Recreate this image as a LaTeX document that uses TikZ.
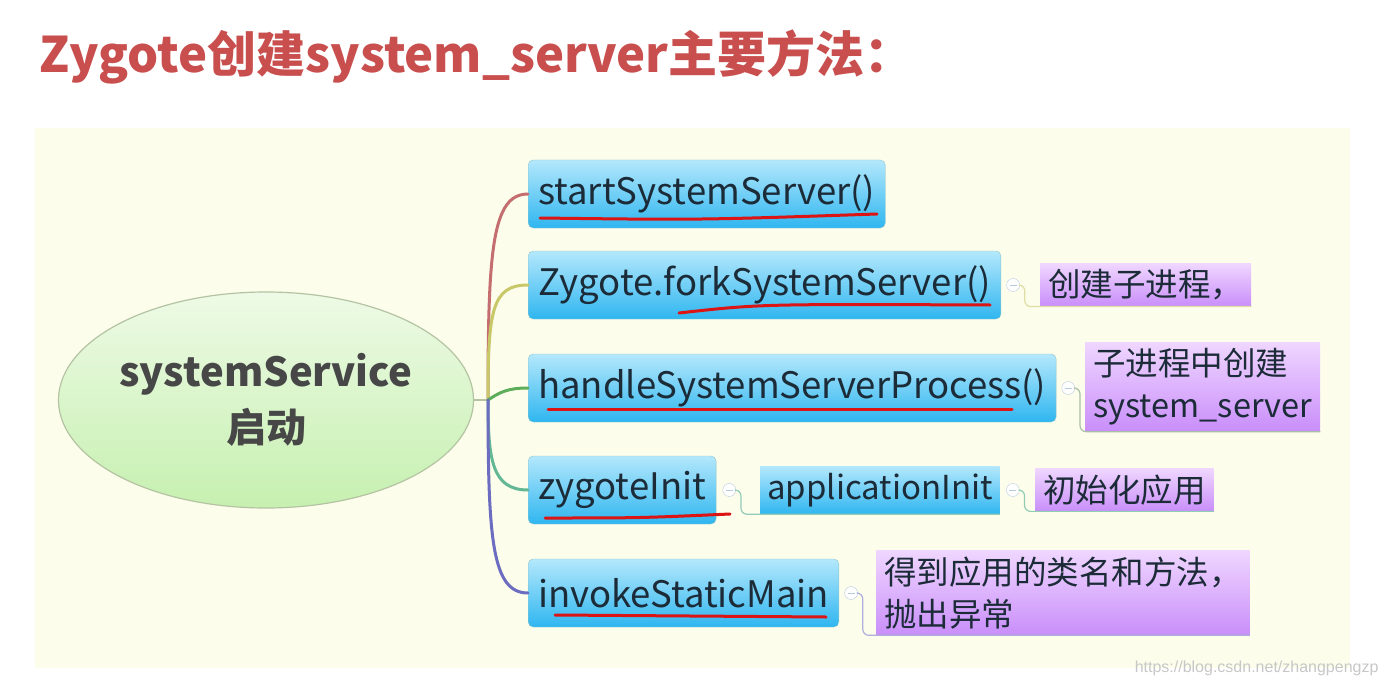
\documentclass[tikz,border=0pt]{standalone}
\usepackage{fontspec}
\setmainfont{Noto Sans CJK SC}
\newfontfamily\wmfont{Liberation Sans}
\usetikzlibrary{shapes.geometric,calc}
\definecolor{panel}{HTML}{FDFDEC}
\definecolor{titleRed}{HTML}{C94F4F}
\definecolor{ink}{HTML}{1C2B38}
\definecolor{topicA}{HTML}{B4E8FC}
\definecolor{topicB}{HTML}{2FB6F0}
\definecolor{topicLine}{HTML}{8FC6C8}
\definecolor{noteA}{HTML}{EFD6FF}
\definecolor{noteB}{HTML}{C98EFA}
\definecolor{rootA}{HTML}{EEFAE6}
\definecolor{rootB}{HTML}{C6F0B0}
\definecolor{rootLine}{HTML}{B4C4A2}
\definecolor{brA}{HTML}{C46E70}
\definecolor{brB}{HTML}{C9C868}
\definecolor{brC}{HTML}{5DAE5A}
\definecolor{brD}{HTML}{62B894}
\definecolor{brE}{HTML}{6C6CC0}
\definecolor{minusLine}{HTML}{B8CCE0}
\definecolor{penRed}{HTML}{DC1414}

\begin{document}
\begin{tikzpicture}[x=1pt,y=-1pt,
  topic/.style={draw=topicLine,rounded corners=5pt,top color=topicA,bottom color=topicB,
                minimum height=68pt,inner xsep=10pt,anchor=west,text=ink,
                font=\fontsize{36.5}{40}\selectfont},
  subtopic/.style={top color=topicA,bottom color=topicB,minimum height=48pt,inner xsep=7pt,
                anchor=west,text=ink,font=\fontsize{33}{36}\selectfont},
  note/.style={top color=noteA,bottom color=noteB,inner xsep=8pt,inner ysep=6pt,anchor=west,
               align=left,text=ink,font=\fontsize{32.5}{42}\selectfont},
  minus/.style={circle,draw=minusLine,fill=white,minimum size=13pt,inner sep=0pt,
                path picture={\draw[minusLine] (-3.5pt,0pt) -- (3.5pt,0pt);}},
  branch/.style={line width=3pt,line cap=round,#1},
  subline/.style={line width=1.2pt,rounded corners=6pt,#1},
  pen/.style={penRed,line width=3pt,line cap=round}]

\useasboundingbox (0,0) rectangle (1391,687);
\fill[panel] (35,128) rectangle (1350,668);

\node[anchor=west,text=titleRed,font=\fontsize{49}{52}\selectfont\bfseries] (title) at (36,57)
  {Zygote创建system\_server主要方法：};

\node[ellipse,draw=rootLine,line width=1.2pt,top color=rootA,bottom color=rootB,inner sep=0pt,
      minimum width=410pt,minimum height=216pt,align=center,text=black!72,
      font=\fontsize{40}{56}\selectfont\bfseries] (root) at (266,400) {systemService\\启动};

\node[topic] (t1) at (528,194) {startSystemServer()};
\node[topic] (t2) at (528,285) {Zygote.forkSystemServer()};
\node[topic] (t3) at (528,388) {handleSystemServerProcess()};
\node[topic] (t4) at (528,490) {zygoteInit};
\node[topic] (t5) at (528,593) {invokeStaticMain};

\coordinate (hub) at (488,400);
\draw[rootLine,line width=1.5pt] (root.east) -- (hub);
\draw[branch=brA] (hub) .. controls +(0,-150) and +(-36,0) .. (t1.west);
\draw[branch=brB] (hub) .. controls +(0,-90) and +(-36,0) .. (t2.west);
\draw[branch=brC] (hub) .. controls +(12,-8) and +(-20,0) .. (t3.west);
\draw[branch=brD] (hub) .. controls +(0,60) and +(-36,0) .. (t4.west);
\draw[branch=brE] (hub) .. controls +(0,140) and +(-36,0) .. (t5.west);

\node[minus] (m2) at ($(t2.east)+(12,0)$) {};
\node[minus] (m3) at ($(t3.east)+(12,0)$) {};
\node[minus] (m4) at ($(t4.east)+(13,0)$) {};
\node[minus] (m5) at ($(t5.east)+(12,0)$) {};

\node[note] (n2) at (1040,285) {创建子进程，};
\node[note] (n3) at (1085,387) {子进程中创建\\system\_server};
\node[subtopic] (a4) at (760,490) {applicationInit};
\node[minus] (m6) at ($(a4.east)+(13,0)$) {};
\node[note] (n4) at (1035,490) {初始化应用};
\node[note] (n5) at (876,593) {得到应用的类名和方法，\\抛出异常};

\draw[subline=brB!60] (m2.east) -- ++(5,0) |- (n2.south east);
\draw[subline=brC!45!gray!60] (m3.east) -- ++(5,0) |- (n3.south east);
\draw[subline=brD!70] (m4.east) -- ++(5,0) |- (a4.south east);
\draw[subline=brD!70] (m6.east) -- ++(5,0) |- (n4.south east);
\draw[subline=brE!55] (m5.east) -- ++(5,0) |- (n5.south east);

% hand-drawn underlines
\draw[pen] (540,218) .. controls (700,220) .. (877,214);
\draw[pen] (679,313) .. controls (760,304) .. (990,305);
\draw[pen] (548,409) -- (1012,409);
\draw[pen] (545,518) .. controls (640,518) .. (730,514);
\draw[pen] (555,615) -- (826,617);

\node[anchor=east,text=black!22,font=\wmfont\fontsize{16}{18}\selectfont] (mark) at (1382,668)
  {https://blog.csdn.net/zhangpengzp};
\end{tikzpicture}
\end{document}
